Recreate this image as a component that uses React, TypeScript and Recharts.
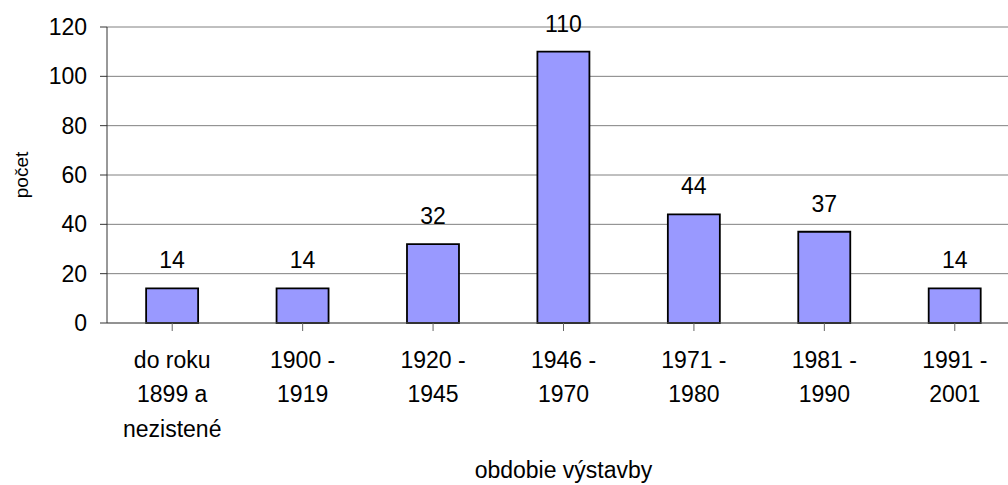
import React from 'react';
import { BarChart, Bar, XAxis, YAxis, CartesianGrid, LabelList } from 'recharts';

const categories = [
  'do roku 1899 a nezistené',
  '1900 - 1919',
  '1920 - 1945',
  '1946 - 1970',
  '1971 - 1980',
  '1981 - 1990',
  '1991 - 2001',
];
const tickLines = [
  ['do roku', '1899 a', 'nezistené'],
  ['1900 -', '1919'],
  ['1920 -', '1945'],
  ['1946 -', '1970'],
  ['1971 -', '1980'],
  ['1981 -', '1990'],
  ['1991 -', '2001'],
];
const counts = [14, 14, 32, 110, 44, 37, 14];
const yTicks = [0, 20, 40, 60, 80, 100, 120];

const data = categories.map((c, i) => ({ name: c, value: counts[i] }));

const FONT = '"Liberation Sans", Arial, sans-serif';

const XTick = (props: any) => {
  const { x, y, payload } = props;
  const idx = categories.indexOf(payload.value);
  const lines = idx >= 0 ? tickLines[idx] : [String(payload.value)];
  return (
    <text x={x} y={y} textAnchor="middle" fontFamily={FONT} fontSize={23} fill="#000">
      {lines.map((l, i) => (
        <tspan key={i} x={x} dy={i === 0 ? 35 : 34.3}>
          {l}
        </tspan>
      ))}
    </text>
  );
};

export default function App() {
  return (
    <div
      style={{
        position: 'absolute',
        left: 0,
        top: 0,
        width: 1008,
        height: 485,
        overflow: 'hidden',
        background: '#fff',
      }}
    >
      <BarChart
        width={1020}
        height={485}
        data={data}
        margin={{ top: 27, right: 0, left: 0, bottom: 7 }}
        barCategoryGap="30%"
      >
        <CartesianGrid vertical={false} stroke="#808080" strokeWidth={1} />
        <XAxis
          dataKey="name"
          height={155}
          interval={0}
          tick={<XTick />}
          tickSize={8}
          tickMargin={2}
          axisLine={{ stroke: '#666666', strokeWidth: 1 }}
          tickLine={{ stroke: '#666666', strokeWidth: 1 }}
          label={{
            value: 'obdobie výstavby',
            position: 'insideBottom',
            offset: 0,
            style: { fontFamily: FONT, fontSize: 23, fill: '#000' },
          }}
        />
        <YAxis
          width={107}
          domain={[0, 120]}
          ticks={yTicks}
          interval={0}
          tickSize={7}
          tickMargin={13}
          axisLine={{ stroke: '#333333', strokeWidth: 1 }}
          tickLine={{ stroke: '#333333', strokeWidth: 1 }}
          tick={{ fontFamily: FONT, fontSize: 23, fill: '#000' }}
          label={{
            value: 'počet',
            angle: -90,
            position: 'insideLeft',
            offset: 21,
            style: { fontFamily: FONT, fontSize: 19, fill: '#000', textAnchor: 'middle' },
          }}
        />
        <Bar dataKey="value" fill="#9999FF" stroke="#000" strokeWidth={1.8} isAnimationActive={false}>
          <LabelList
            dataKey="value"
            position="top"
            offset={20}
            style={{ fontFamily: FONT, fontSize: 23, fill: '#000' }}
          />
        </Bar>
      </BarChart>
    </div>
  );
}
